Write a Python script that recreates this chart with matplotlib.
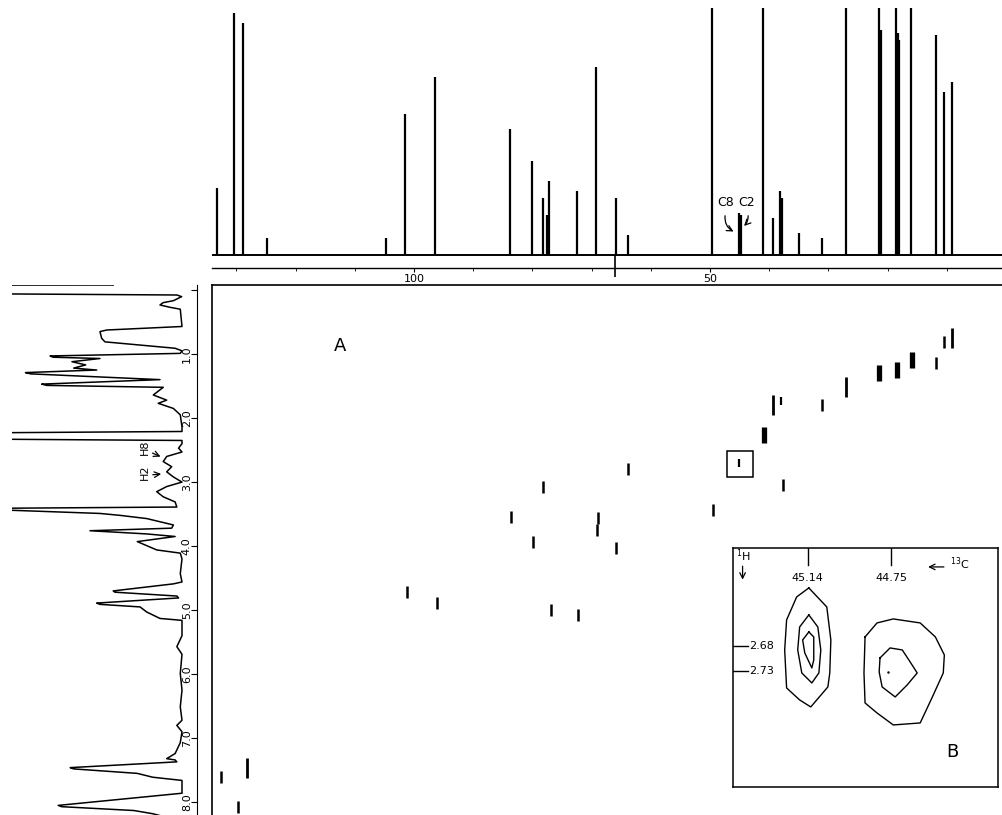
import numpy as np
import matplotlib.pyplot as plt
from matplotlib.patches import Rectangle

# --- 13C 1D spectrum (top trace) : shifts in ppm, heights in % of panel ---
c_shift = [133.2, 130.4, 128.9, 124.8, 104.7, 101.5, 96.5, 83.8, 80.1, 78.2, 77.5, 77.2,
           72.5, 69.3, 65.9, 63.9, 49.7, 45.14, 44.75, 41.0, 39.4, 38.2, 37.8, 35.0,
           31.1, 27.0, 21.5, 21.1, 18.6, 18.2, 18.1, 16.0, 11.8, 10.5, 9.1]
c_height = [27, 98, 94, 7, 7, 57, 72, 51, 38, 23, 16, 30,
            26, 76, 23, 8, 110, 17, 16, 110, 15, 26, 23, 9,
            7, 110, 110, 91, 110, 90, 87, 110, 89, 66, 70]
c_neg_shift = [66.0]
c_neg_height = [-9]

# --- 1H 1D spectrum (left trace) : shift in ppm, intensity in % ---
h_ppm = [-0.078, -0.077, 0.06, 0.078, 0.104, 0.167, 0.198, 0.234, 0.27, 0.30, 0.57,
         0.625, 0.65, 0.755, 0.81, 0.91, 0.95, 0.99, 1.03, 1.05, 1.07, 1.12, 1.17, 1.22,
         1.25, 1.29, 1.31, 1.40, 1.47, 1.49, 1.52, 1.64, 1.72, 1.77, 1.85, 1.95, 2.14,
         2.21, 2.23, 2.33, 2.35, 2.40, 2.47, 2.53, 2.60, 2.68, 2.76, 2.84, 2.92, 3.00,
         3.07, 3.15, 3.23, 3.31, 3.39, 3.41, 3.43, 3.49, 3.52, 3.57, 3.67, 3.72, 3.76,
         3.81, 3.85, 3.93, 4.06, 4.11, 4.20, 4.43, 4.56, 4.59, 4.70, 4.72, 4.78, 4.81,
         4.89, 4.91, 4.95, 5.03, 5.13, 5.16, 5.40, 5.57, 5.69, 5.99, 6.25, 6.51, 6.72,
         6.80, 6.90, 7.07, 7.24, 7.32, 7.34, 7.37, 7.46, 7.48, 7.55, 7.61, 7.66, 7.86,
         8.05, 8.07, 8.13, 8.18, 8.30]
h_int = [40, 110, 110, 3, 0.2, 5, 11, 12.8, 7, 1, 0,
         43.8, 47.7, 46.7, 44.8, 4, 0, 1, 76.7, 75, 47.7, 64, 56, 63,
         49.6, 91, 88, 12.8, 81.6, 78.7, 10.9, 16.7, 8.9, 13.8, 5, 1, 0,
         0, 110, 110, 0, 0, 2, 0, 8.9, 10.9, 6, 8.9, 5, 0,
         8.9, 14.7, 10.9, 4, 3, 110, 110, 47.7, 36, 20.5, 5, 6, 53.5,
         20.5, 4, 26, 14.7, 1, 0, 1, 0, 5, 40, 39, 3, 2,
         49.6, 47.7, 24.4, 20.5, 12.8, 0, 0, 3, 0, 1, 0, 1, 0,
         3, 0, 1, 4, 8.9, 4, 3, 65, 63, 26, 17, 0, 0,
         72, 70, 28, 17, 0]

# --- 2D HETCOR cross peaks (A) : 13C ppm, 1H ppm ---
xp_c = [132.6, 128.2, 129.7, 101.2, 96.1, 83.6, 78.2, 79.9, 76.9, 72.3, 68.9, 69.1,
        65.9, 63.9, 49.5, 45.1, 40.9, 39.4, 38.0, 37.7, 31.1, 27.0, 21.5, 18.4,
        15.9, 11.8, 10.5, 9.1]
xp_h = [7.61, 7.47, 8.08, 4.72, 4.89, 3.55, 3.08, 3.94, 5.00, 5.08, 3.56, 3.75,
        4.03, 2.80, 3.44, 2.70, 2.27, 1.80, 1.73, 3.05, 1.80, 1.52, 1.30, 1.25,
        1.09, 1.14, 0.81, 0.75]

# --- expansion (B) : contour outlines, 13C ppm / 1H ppm ---
cont1_c = [45.135, 45.051, 45.032, 45.037, 45.046, 45.126, 45.178, 45.239, 45.248, 45.239, 45.192]
cont1_h = [2.564, 2.602, 2.668, 2.734, 2.762, 2.802, 2.788, 2.764, 2.688, 2.628, 2.582]
cont2_c = [45.135, 45.093, 45.079, 45.088, 45.121, 45.168, 45.187, 45.178]
cont2_h = [2.618, 2.642, 2.688, 2.734, 2.754, 2.734, 2.688, 2.642]
cont3_c = [45.135, 45.112, 45.112, 45.121, 45.154, 45.164]
cont3_h = [2.652, 2.662, 2.708, 2.724, 2.694, 2.668]
cont4_c = [44.872, 44.816, 44.740, 44.614, 44.543, 44.501, 44.506, 44.557, 44.614,
           44.740, 44.816, 44.872, 44.877]
cont4_h = [2.662, 2.634, 2.626, 2.634, 2.662, 2.698, 2.734, 2.782, 2.834,
           2.838, 2.814, 2.794, 2.734]
cont5_c = [44.802, 44.755, 44.698, 44.661, 44.628, 44.675, 44.731, 44.792, 44.806]
cont5_h = [2.704, 2.684, 2.688, 2.712, 2.734, 2.758, 2.782, 2.762, 2.732]
b_c_ticks = [45.14, 44.75]
b_h_ticks = [2.68, 2.73]

c_lim = (134.12, 0.68)
h_lim = (8.20, -0.078)

fig = plt.figure(figsize=(10.02, 8.15), dpi=100)
plt.rcParams['font.family'] = 'DejaVu Sans'

# top 13C trace
ax_t = fig.add_axes([0.2116, 0.6712, 0.7884, 0.319])
ax_t.plot(c_lim, [0, 0], color='black', lw=1.4)
ax_t.vlines(c_shift, 0, c_height, color='black', lw=1.6)
ax_t.vlines(c_neg_shift, 0, c_neg_height, color='black', lw=1.2, clip_on=False)
ax_t.set_xlim(c_lim)
ax_t.set_ylim(-5.26, 100)
for s in ['top', 'right', 'left']:
    ax_t.spines[s].set_visible(False)
ax_t.spines['bottom'].set_linewidth(1.0)
ax_t.set_yticks([])
ax_t.set_xticks([100, 50])
ax_t.set_xticklabels(['100', '50'])
ax_t.set_xticks(np.arange(10, 131, 10), minor=True)
ax_t.tick_params(axis='x', which='major', length=3, pad=1, labelsize=8)
ax_t.tick_params(axis='x', which='minor', length=2)
ax_t.text(47.3, 18.6, 'C8', fontsize=9, ha='center', va='bottom')
ax_t.text(43.8, 18.6, 'C2', fontsize=9, ha='center', va='bottom')
ax_t.annotate('', xy=(45.6, 9), xytext=(47.4, 17),
              arrowprops=dict(arrowstyle='->', color='black', lw=0.9,
                              connectionstyle='arc3,rad=0.4'))
ax_t.annotate('', xy=(44.6, 11), xytext=(43.6, 17),
              arrowprops=dict(arrowstyle='->', color='black', lw=0.9,
                              connectionstyle='arc3,rad=-0.3'))

# left 1H trace
ax_l = fig.add_axes([0.012, 0.0, 0.1846, 0.6503])
ax_l.plot(h_int, h_ppm, color='black', lw=1.1)
ax_l.set_xlim(98.84, -8.72)
ax_l.set_ylim(h_lim)
for s in ['top', 'left', 'bottom']:
    ax_l.spines[s].set_visible(False)
ax_l.set_xticks([])
ax_l.yaxis.tick_right()
ax_l.set_yticks(np.arange(0, 9, 1))
ax_l.tick_params(axis='y', direction='in', length=4, labelright=False)
for v in range(1, 9):
    ax_l.text(0.945, v, '%.1f' % v, transform=ax_l.get_yaxis_transform(),
              rotation=90, fontsize=8, ha='center', va='center')
ax_l.text(21.5, 2.45, 'H8', rotation=90, fontsize=8, ha='center', va='center')
ax_l.text(21.5, 2.84, 'H2', rotation=90, fontsize=8, ha='center', va='center')
ax_l.annotate('', xy=(11, 2.62), xytext=(18.6, 2.53),
              arrowprops=dict(arrowstyle='->', color='black', lw=0.9))
ax_l.annotate('', xy=(10.5, 2.87), xytext=(18.6, 2.89),
              arrowprops=dict(arrowstyle='->', color='black', lw=0.9))

# main 2D map
ax = fig.add_axes([0.2116, 0.0, 0.7884, 0.6503])
ax.set_xlim(c_lim)
ax.set_ylim(h_lim)
ax.spines['right'].set_visible(False)
ax.spines['bottom'].set_visible(False)
ax.spines['left'].set_linewidth(1.2)
ax.spines['top'].set_linewidth(1.2)
ax.set_xticks([])
ax.set_yticks([])

# mark look: 0 normal dash, 1 tall, 2 thick blob, 3 small
mark_kind = [0, 1, 0, 0, 0, 0, 0, 0, 0, 0, 0, 0,
             0, 0, 0, 3, 2, 1, 3, 0, 0, 1, 2, 2,
             2, 0, 0, 1]
kind_ms = [9, 14, 12, 6]
kind_mew = [1.8, 2.0, 3.8, 1.6]
for c, h, k in zip(xp_c, xp_h, mark_kind):
    ax.plot(c, h, marker='|', color='black', ms=kind_ms[k], mew=kind_mew[k])
ax.add_patch(Rectangle((42.7, 2.52), 4.4, 0.40, fill=False, ec='black', lw=1.1))
ax.text(0.162, 0.885, 'A', transform=ax.transAxes, fontsize=13, ha='center', va='center')

# inset B
ax_b = fig.add_axes([0.7315, 0.0344, 0.2645, 0.2933])
ax_b.set_xlim(45.49, 44.25)
ax_b.set_ylim(2.962, 2.484)
ax_b.set_xticks([])
ax_b.set_yticks([])
for s in ax_b.spines.values():
    s.set_linewidth(1.1)
for cc, hh in [(cont1_c, cont1_h), (cont2_c, cont2_h), (cont3_c, cont3_h),
               (cont4_c, cont4_h), (cont5_c, cont5_h)]:
    ax_b.plot(cc + cc[:1], hh + hh[:1], color='black', lw=1.0)
ax_b.plot(44.764, 2.732, marker='.', color='black', ms=1.5)
for c in b_c_ticks:
    ax_b.plot([c, c], [2.484, 2.518], color='black', lw=1.0)
    ax_b.text(c, 2.545, '%.2f' % c, fontsize=8, ha='center', va='center')
for h in b_h_ticks:
    ax_b.plot([45.49, 45.42], [h, h], color='black', lw=1.0)
    ax_b.text(45.415, h, '%.2f' % h, fontsize=8, ha='left', va='center')
ax_b.text(45.44, 2.500, '$^{1}$H', fontsize=8, ha='center', va='center')
ax_b.annotate('', xy=(45.445, 2.553), xytext=(45.445, 2.515),
              arrowprops=dict(arrowstyle='->', color='black', lw=0.9))
ax_b.annotate('', xy=(44.59, 2.522), xytext=(44.49, 2.522),
              arrowprops=dict(arrowstyle='->', color='black', lw=0.9))
ax_b.text(44.43, 2.515, '$^{13}$C', fontsize=8, ha='center', va='center')
ax_b.text(44.463, 2.892, 'B', fontsize=13, ha='center', va='center')

fig.savefig('out.png', dpi=100)
